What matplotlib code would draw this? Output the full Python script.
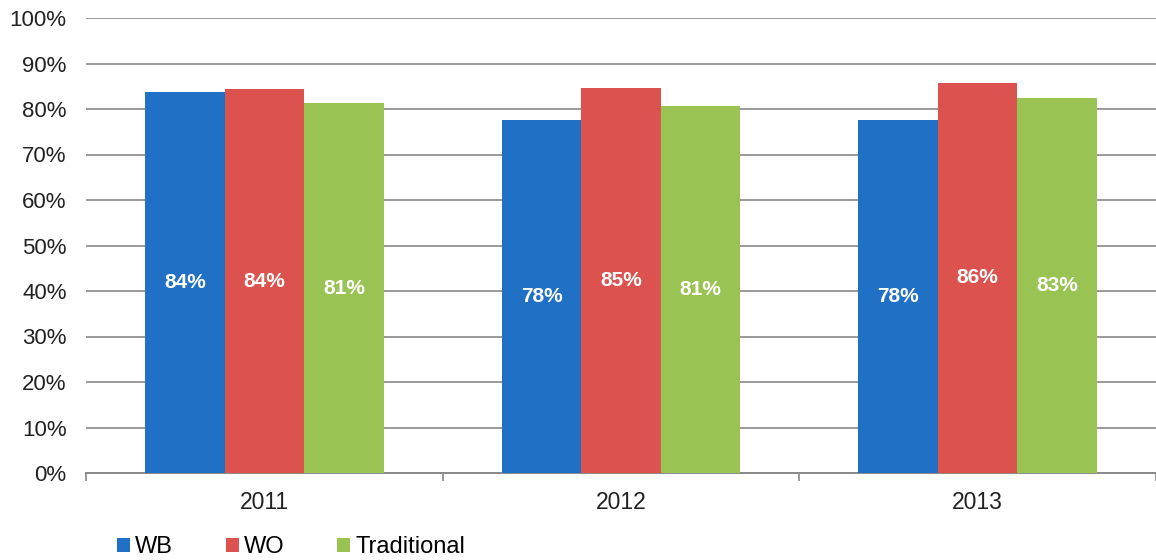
import matplotlib
matplotlib.use('Agg')

import matplotlib.pyplot as plt
import numpy as np

plt.rcParams['font.family'] = ['Liberation Sans', 'DejaVu Sans']

years = ['2011', '2012', '2013']
series = ['WB', 'WO', 'Traditional']
wb = [83.7, 77.6, 77.5]
wo = [84.3, 84.6, 85.8]
trad = [81.3, 80.6, 82.4]
labels_wb = ['84%', '78%', '78%']
labels_wo = ['84%', '85%', '86%']
labels_trad = ['81%', '81%', '83%']

colors = ['#2070C6', '#DB524E', '#99C453']

fig = plt.figure(figsize=(11.56, 5.6), dpi=100)
ax = fig.add_axes([86 / 1156, 1 - 473 / 560, 1 - 86 / 1156, 455 / 560])

x = np.arange(len(years))
width = 0.223

for i, (vals, labs) in enumerate([(wb, labels_wb), (wo, labels_wo), (trad, labels_trad)]):
    pos = x + (i - 1) * width
    bars = ax.bar(pos, vals, width, color=colors[i], label=series[i], zorder=3)
    for b, lab in zip(bars, labs):
        ax.text(b.get_x() + b.get_width() / 2, b.get_height() / 2, lab,
                ha='center', va='center', color='white', fontsize=15,
                fontweight='bold', zorder=4)

ax.set_ylim(0, 100)
ax.set_xlim(-0.5, 2.47)
ax.set_yticks(np.arange(0, 101, 10))
ax.set_yticklabels(['%d%%' % v for v in range(0, 101, 10)], fontsize=16, color='#222222')
ax.yaxis.grid(True, color='#9a9a9a', linewidth=1.4, zorder=0)
ax.tick_params(axis='y', length=0, pad=14)

# category labels centred, tick marks at boundaries
ax.set_xticks(x)
ax.set_xticklabels(years, fontsize=16.5, color='#222222')
ax.tick_params(axis='x', length=0, pad=13)
ax.set_xticks([-0.5, 0.5, 1.5, 2.5], minor=True)
ax.tick_params(axis='x', which='minor', length=6, color='#888888', width=1.2)

for s in ['top', 'right', 'left']:
    ax.spines[s].set_visible(False)
ax.spines['bottom'].set_color('#8a8a8a')
ax.spines['bottom'].set_linewidth(1.4)

fig.legend(loc='lower left', bbox_to_anchor=(96 / 1156, -0.035), ncol=3,
           frameon=False, fontsize=17, handlelength=0.55, handleheight=0.55,
           handletextpad=0.2, columnspacing=2.25)

plt.savefig('out.png', dpi=100)
